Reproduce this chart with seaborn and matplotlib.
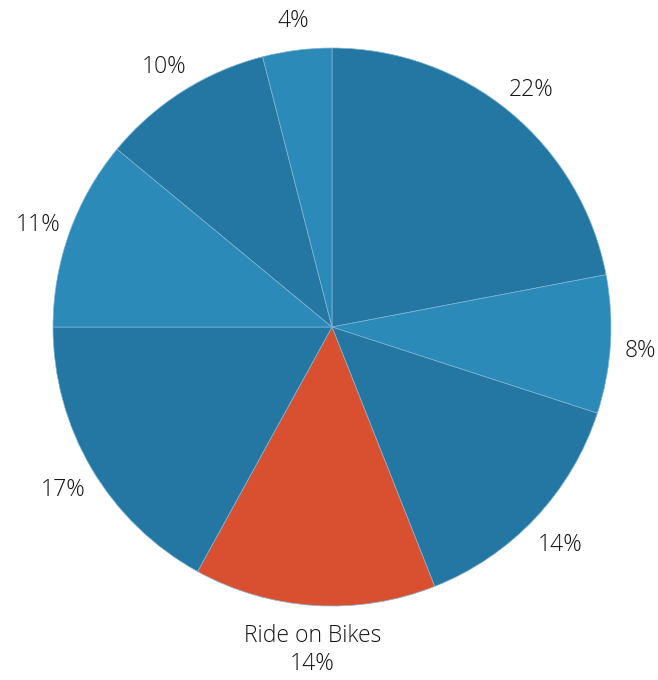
import matplotlib
matplotlib.use("Agg")
import matplotlib.pyplot as plt
import seaborn as sns

# Share of trips by activity, clockwise from 12 o'clock
categories = ["A", "B", "C", "Ride on Bikes", "E", "F", "G", "H"]
shares = [22, 8, 14, 14, 17, 11, 10, 4]
highlight = "Ride on Bikes"

sns.set_theme(style="white")
plt.rcParams["font.family"] = ["Open Sans", "DejaVu Sans"]

dark_blue = "#2577a3"
light_blue = "#2c8ab8"
accent = "#d95030"

colors = []
for i, c in enumerate(categories):
    if c == highlight:
        colors.append(accent)
    else:
        colors.append(dark_blue if i % 2 == 0 else light_blue)

labels = [f"{c}\n{v}%" if c == highlight else f"{v}%" for c, v in zip(categories, shares)]

fig = plt.figure(figsize=(6.58, 6.80), dpi=100)
cx, cy, r = 332, 327, 279
W, H = 658, 680
ax = fig.add_axes([(cx - r) / W, (H - cy - r) / H, 2 * r / W, 2 * r / H])

wedges, texts = ax.pie(
    shares,
    labels=labels,
    colors=colors,
    startangle=90,
    counterclock=False,
    labeldistance=1.12,
    wedgeprops=dict(edgecolor="#7fb5d5", linewidth=0.5),
    textprops=dict(fontsize=16.5, color="#151515", fontweight="light"),
)
ax.set_xlim(-1, 1)
ax.set_ylim(-1, 1)
ax.set_aspect("equal")
ax.axis("off")

for t in texts:
    t.set_horizontalalignment("center")
    t.set_verticalalignment("center")
    t.set_linespacing(1.2)
    x, y = t.get_position()
    if highlight in t.get_text():
        t.set_position((x, y - 0.04))
    else:
        t.set_position((x, y - 0.015))

# keep labels inside the canvas
fig.canvas.draw()
renderer = fig.canvas.get_renderer()
inv = ax.transData.inverted()
for t in texts:
    bb = t.get_window_extent(renderer)
    shift = 0
    if bb.x1 > W - 2:
        shift = (W - 2) - bb.x1
    elif bb.x0 < 2:
        shift = 2 - bb.x0
    if shift:
        x, y = t.get_position()
        dx = inv.transform((shift, 0))[0] - inv.transform((0, 0))[0]
        t.set_position((x + dx, y))

fig.savefig("out.png", dpi=100)
